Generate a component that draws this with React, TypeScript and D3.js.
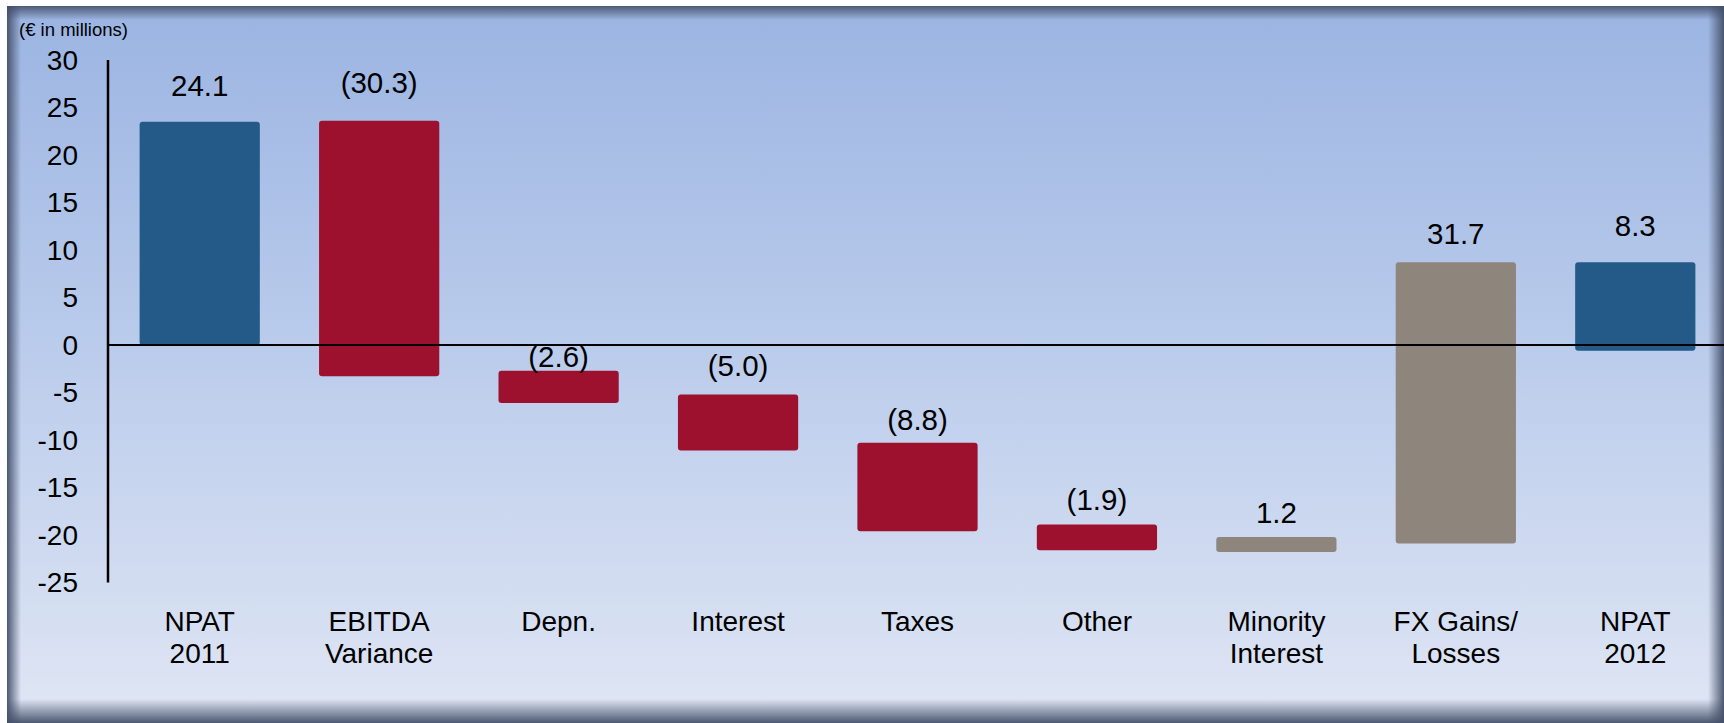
import { useEffect } from "react";
import * as d3 from "d3";

// Categories (two-line labels)
const categories = [
  ["NPAT", "2011"],
  ["EBITDA", "Variance"],
  ["Depn."],
  ["Interest"],
  ["Taxes"],
  ["Other"],
  ["Minority", "Interest"],
  ["FX Gains/", "Losses"],
  ["NPAT", "2012"],
];

// bar extents as drawn in the source (€ in millions)
const barTop = [23.5, 23.6, -2.7, -5.2, -10.3, -18.9, -20.2, 8.7, 8.7];
const barBottom = [0, -3.3, -6.1, -11.1, -19.6, -21.6, -21.8, -20.9, -0.6];
const valueLabels = ["24.1", "(30.3)", "(2.6)", "(5.0)", "(8.8)", "(1.9)", "1.2", "31.7", "8.3"];
const labelAt = [27.3, 27.6, -1.2, -2.2, -7.9, -16.3, -17.7, 11.7, 12.6];
const kinds = ["total", "down", "down", "down", "down", "down", "up", "up", "total"];
const yTicks = [30, 25, 20, 15, 10, 5, 0, -5, -10, -15, -20, -25];

const W = 1724;
const H = 723;
const font = "'Liberation Sans', Arial, sans-serif";
const colors: Record<string, string> = {
  total: "#245a88",
  down: "#9d102e",
  up: "#8e857c",
};

const App = () => {
  useEffect(() => {
    document.body.style.margin = "0";
    document.body.style.overflow = "hidden";
  }, []);

  const axisX = 108;
  const x = d3
    .scaleBand()
    .domain(categories.map((_, i) => String(i)))
    .range([axisX + 2, W + 1])
    .paddingInner(0.33)
    .paddingOuter(0.165);
  const y = d3.scaleLinear().domain([-25, 30]).range([582.5, 60]);

  return (
    <svg width={W} height={H} style={{ display: "block" }} fontFamily={font}>
      <defs>
        <linearGradient id="bg" x1="0" y1="0" x2="0" y2="1">
          <stop offset="0" stopColor="#9bb4e2" />
          <stop offset="0.5" stopColor="#bccdec" />
          <stop offset="1" stopColor="#e0e6f4" />
        </linearGradient>
        <linearGradient id="shL" x1="0" y1="0" x2="1" y2="0">
          <stop offset="0" stopColor="#44506a" stopOpacity="0.95" />
          <stop offset="1" stopColor="#44506a" stopOpacity="0" />
        </linearGradient>
        <linearGradient id="shR" x1="1" y1="0" x2="0" y2="0">
          <stop offset="0" stopColor="#44506a" stopOpacity="0.95" />
          <stop offset="1" stopColor="#44506a" stopOpacity="0" />
        </linearGradient>
        <linearGradient id="shT" x1="0" y1="0" x2="0" y2="1">
          <stop offset="0" stopColor="#44506a" stopOpacity="0.9" />
          <stop offset="1" stopColor="#44506a" stopOpacity="0" />
        </linearGradient>
        <linearGradient id="shB" x1="0" y1="1" x2="0" y2="0">
          <stop offset="0" stopColor="#44506a" stopOpacity="0.95" />
          <stop offset="1" stopColor="#44506a" stopOpacity="0" />
        </linearGradient>
      </defs>

      {/* panel */}
      <rect x={0} y={0} width={W} height={H} fill="#ffffff" />
      <rect x={7} y={6} width={W - 7} height={H - 6} fill="url(#bg)" />
      <rect x={7} y={6} width={14} height={H - 6} fill="url(#shL)" />
      <rect x={W - 16} y={6} width={16} height={H - 6} fill="url(#shR)" />
      <rect x={7} y={6} width={W - 7} height={14} fill="url(#shT)" />
      <rect x={7} y={H - 24} width={W - 7} height={24} fill="url(#shB)" />

      <text x={19} y={36} fontSize={18.5} fill="#000">
        (€ in millions)
      </text>

      {/* y tick labels */}
      {yTicks.map((t) => (
        <text key={t} x={78} y={y(t)} dy="0.35em" textAnchor="end" fontSize={28} fill="#000">
          {t}
        </text>
      ))}

      {/* bars */}
      {categories.map((_, i) => (
        <rect
          key={i}
          x={x(String(i))}
          y={y(barTop[i])}
          width={x.bandwidth()}
          height={y(barBottom[i]) - y(barTop[i])}
          rx={3}
          fill={colors[kinds[i]]}
        />
      ))}

      {/* axis lines */}
      <line x1={axisX} x2={axisX} y1={y(30)} y2={y(-25)} stroke="#000" strokeWidth={2.5} />
      <line x1={axisX} x2={W} y1={y(0)} y2={y(0)} stroke="#000" strokeWidth={2} />

      {/* value labels */}
      {valueLabels.map((v, i) => (
        <text
          key={i}
          x={x(String(i))! + x.bandwidth() / 2}
          y={y(labelAt[i])}
          dy="0.35em"
          textAnchor="middle"
          fontSize={29.5}
          fill="#000"
        >
          {v}
        </text>
      ))}

      {/* category labels */}
      {categories.map((lines, i) => (
        <text
          key={i}
          x={x(String(i))! + x.bandwidth() / 2}
          textAnchor="middle"
          fontSize={28}
          fill="#000"
        >
          {lines.map((l, j) => (
            <tspan key={j} x={x(String(i))! + x.bandwidth() / 2} y={621 + j * 32} dy="0.35em">
              {l}
            </tspan>
          ))}
        </text>
      ))}
    </svg>
  );
};

export default App;
